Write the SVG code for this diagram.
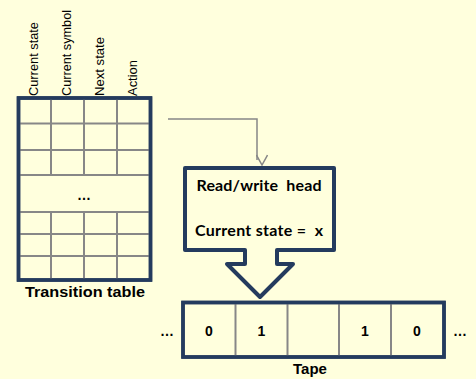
<svg xmlns="http://www.w3.org/2000/svg" width="476" height="379" viewBox="0 0 476 379">
<defs>
<style>
.bg{fill:#FFFFDD}
.frame{fill:#FFFFDD;stroke:#243B5E;stroke-width:3.5}
.grid{stroke:#878787;stroke-width:2;fill:none}
.hdr{font-family:"Liberation Sans",Arial,sans-serif;font-size:12px;fill:#000}
.lbl{font-family:"Liberation Sans",Arial,sans-serif;font-weight:bold;fill:#000}
.head{font-family:Lato,"Open Sans",sans-serif;font-weight:bold;font-size:16px;fill:#000}
.conn{stroke:#878787;stroke-width:1.5;fill:none}
</style>
<marker id="open" viewBox="0 0 12 12" refX="6" refY="11" markerWidth="12" markerHeight="12" markerUnits="userSpaceOnUse" orient="auto-start-reverse">
<path d="M0.5,1 L6,11 L11.5,1" transform="rotate(-90 6 6)" fill="none" stroke="#878787" stroke-width="1.5"/>
</marker>
</defs>
<rect class="bg" x="0" y="0" width="476" height="379"/>
<g id="transition-table">
<rect class="frame" x="18.5" y="98" width="132" height="182"/>
<g class="grid">
<line x1="51" y1="98" x2="51" y2="175"/>
<line x1="84" y1="98" x2="84" y2="175"/>
<line x1="117" y1="98" x2="117" y2="175"/>
<line x1="51" y1="212" x2="51" y2="280"/>
<line x1="84" y1="212" x2="84" y2="280"/>
<line x1="117" y1="212" x2="117" y2="280"/>
<line x1="18.5" y1="123.5" x2="150.5" y2="123.5"/>
<line x1="18.5" y1="150" x2="150.5" y2="150"/>
<line x1="18.5" y1="175" x2="150.5" y2="175"/>
<line x1="18.5" y1="212" x2="150.5" y2="212"/>
<line x1="18.5" y1="234" x2="150.5" y2="234"/>
<line x1="18.5" y1="256" x2="150.5" y2="256"/>
</g>
<rect x="18.5" y="98" width="132" height="182" fill="none" stroke="#243B5E" stroke-width="3.5"/>
<text class="lbl" x="84" y="200" font-size="14" text-anchor="middle">…</text>
<text class="hdr" transform="translate(37.5,96) rotate(-90)" textLength="74" lengthAdjust="spacingAndGlyphs">Current state</text>
<text class="hdr" transform="translate(70.5,96) rotate(-90)" textLength="86" lengthAdjust="spacingAndGlyphs">Current symbol</text>
<text class="hdr" transform="translate(103.5,96) rotate(-90)" textLength="59" lengthAdjust="spacingAndGlyphs">Next state</text>
<text class="hdr" transform="translate(137,96) rotate(-90)" textLength="36" lengthAdjust="spacingAndGlyphs">Action</text>
<text class="lbl" x="85" y="297" font-size="15" text-anchor="middle" textLength="120" lengthAdjust="spacingAndGlyphs">Transition table</text>
</g>
<g id="connectors">
<polyline class="conn" points="168,119 257,119 257,160" marker-end="url(#open)"/>
</g>
<g id="read-write-head">
<path d="M185,168 H334 V250 H277 V264 H293 L260,297 L227,264 H245 V250 H185 Z" fill="#FFFFDD" stroke="#243B5E" stroke-width="4" stroke-linejoin="round"/>
<text class="head" x="259" y="191" text-anchor="middle" textLength="125" lengthAdjust="spacing" xml:space="preserve">Read/write  head</text>
<text class="head" x="259" y="236" text-anchor="middle" textLength="128" lengthAdjust="spacing" xml:space="preserve">Current state =  x</text>
</g>
<g id="tape">
<rect class="frame" x="183" y="302.5" width="261" height="54.5"/>
<g class="grid">
<line x1="235.5" y1="302.5" x2="235.5" y2="357"/>
<line x1="287.5" y1="302.5" x2="287.5" y2="357"/>
<line x1="339" y1="302.5" x2="339" y2="357"/>
<line x1="391" y1="302.5" x2="391" y2="357"/>
</g>
<rect x="183" y="302.5" width="261" height="54.5" fill="none" stroke="#243B5E" stroke-width="3.5"/>
<text class="lbl" font-size="14" x="209" y="336" text-anchor="middle">0</text>
<text class="lbl" font-size="14" x="261.5" y="336" text-anchor="middle">1</text>
<text class="lbl" font-size="14" x="365" y="336" text-anchor="middle">1</text>
<text class="lbl" font-size="14" x="417" y="336" text-anchor="middle">0</text>
<text class="lbl" font-size="14" x="167" y="336" text-anchor="middle">…</text>
<text class="lbl" font-size="14" x="460" y="336" text-anchor="middle">…</text>
<text class="lbl" font-size="15" x="310" y="374" text-anchor="middle">Tape</text>
</g>
</svg>
